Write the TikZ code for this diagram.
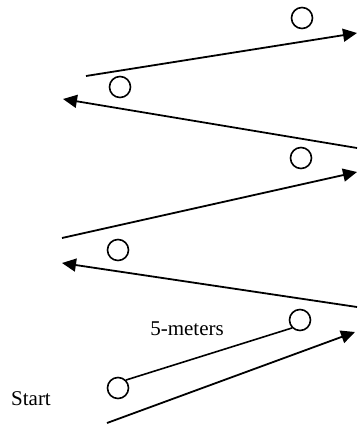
\documentclass[tikz,border=0pt]{standalone}
\usepackage{fontspec}
\setmainfont{Liberation Serif}
\usetikzlibrary{arrows.meta,positioning}

\begin{document}
\begin{tikzpicture}[
  x=1pt,y=-1pt,
  font=\fontsize{21}{25}\selectfont,
  ball/.style={draw,circle,line width=1.6pt,minimum size=21pt,inner sep=0pt},
  arr/.style={-{Triangle[length=14pt,width=13pt]},line width=1.8pt},
  seg/.style={line width=1.6pt}
]
\useasboundingbox (0,0) rectangle (358,431);
% end points of the runs
\coordinate (r1s) at (107,423); \coordinate (r1e) at (355,332);
\coordinate (r2s) at (357,307); \coordinate (r2e) at (62,263);
\coordinate (r3s) at (62,238);  \coordinate (r3e) at (357,172);
\coordinate (r4s) at (357,148); \coordinate (r4e) at (63,99);
\coordinate (r5s) at (86,76);   \coordinate (r5e) at (357,33);
% cones
\node[ball] (c1) at (118,388) {};
\node[ball] (c2) at (300,320) {};
\node[ball] (c3) at (118,250) {};
\node[ball] (c4) at (301,158) {};
\node[ball] (c5) at (120,87) {};
\node[ball] (c6) at (302,18) {};
% labels
\node (start) at (31,399) {Start};
\node (dist) at (187,329) {5-meters};
\draw[seg] (c1.45) -- (c2.225);
\foreach \i in {1,...,5}
  \draw[arr] (r\i s) -- (r\i e);
\end{tikzpicture}
\end{document}
